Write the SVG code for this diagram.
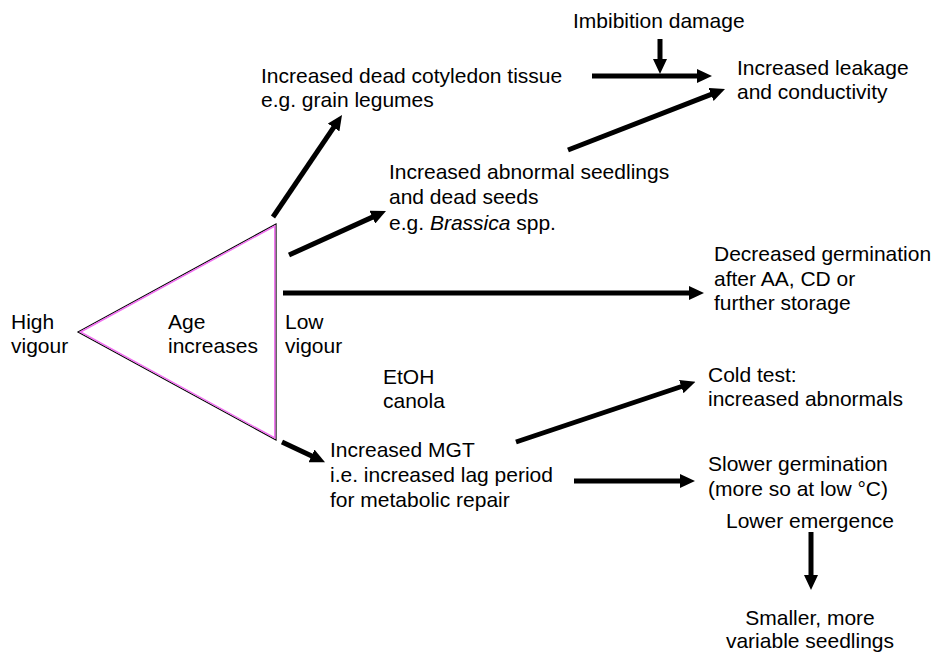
<svg xmlns="http://www.w3.org/2000/svg" width="937" height="656" viewBox="0 0 937 656">
<defs>
<style>
text{font-family:"Liberation Sans",Arial,Helvetica,sans-serif;font-size:21px;fill:#000}
.c line{stroke:#000;stroke-width:5;marker-end:url(#ah)}
</style>
<marker id="ah" markerUnits="userSpaceOnUse" markerWidth="15" markerHeight="14" viewBox="0 0 15 14" refX="5" refY="7" orient="auto">
<path d="M0,0 L15,7 L0,14 z" fill="#000"/>
</marker>
</defs>
<rect width="937" height="656" fill="#fff"/>
<g id="triangle">
<polygon points="78,332 276,224 276,440" fill="none" stroke="#000" stroke-width="1.2"/>
<polygon points="80.5,332 274.8,226 274.8,438" fill="none" stroke="#f070f0" stroke-width="1.5"/>
<text x="168" y="329">Age</text>
<text x="168" y="353">increases</text>
</g>
<g id="high-vigour"><text x="11" y="329">High</text><text x="11" y="353">vigour</text></g>
<g id="low-vigour"><text x="285" y="329">Low</text><text x="285" y="353">vigour</text></g>
<g id="etoh"><text x="383" y="384">EtOH</text><text x="383" y="408">canola</text></g>
<g id="imbibition"><text x="573" y="28">Imbibition damage</text></g>
<g id="cotyledon"><text x="261" y="83">Increased dead cotyledon tissue</text><text x="261" y="107">e.g. grain legumes</text></g>
<g id="leakage"><text x="737" y="75">Increased leakage</text><text x="737" y="99">and conductivity</text></g>
<g id="abnormal"><text x="389" y="179">Increased abnormal seedlings</text><text x="389" y="204">and dead seeds</text><text x="389" y="230">e.g. <tspan font-style="italic">Brassica</tspan> spp.</text></g>
<g id="decreased"><text x="714" y="261">Decreased germination</text><text x="714" y="286">after AA, CD or</text><text x="714" y="310">further storage</text></g>
<g id="mgt"><text x="330" y="457">Increased MGT</text><text x="330" y="482">i.e. increased lag period</text><text x="330" y="507">for metabolic repair</text></g>
<g id="cold"><text x="708" y="382">Cold test:</text><text x="708" y="406">increased abnormals</text></g>
<g id="slower"><text x="708" y="471">Slower germination</text><text x="708" y="496">(more so at low °C)</text></g>
<g id="emergence"><text x="810" y="528" text-anchor="middle">Lower emergence</text></g>
<g id="smaller"><text x="810" y="625" text-anchor="middle">Smaller, more</text><text x="810" y="648" text-anchor="middle">variable seedlings</text></g>
<g id="connectors" class="c">
<line x1="660" y1="39" x2="660" y2="64"/>
<line x1="592" y1="76" x2="702" y2="76"/>
<line x1="568" y1="150" x2="715.7" y2="92.6"/>
<line x1="273" y1="217" x2="336.4" y2="123.3"/>
<line x1="289" y1="255" x2="376.9" y2="215.1"/>
<line x1="283" y1="293" x2="694" y2="293"/>
<line x1="282" y1="442" x2="316" y2="458"/>
<line x1="516" y1="442" x2="686" y2="385"/>
<line x1="574" y1="481" x2="685" y2="481"/>
<line x1="811" y1="532" x2="811" y2="580"/>
</g>
</svg>
